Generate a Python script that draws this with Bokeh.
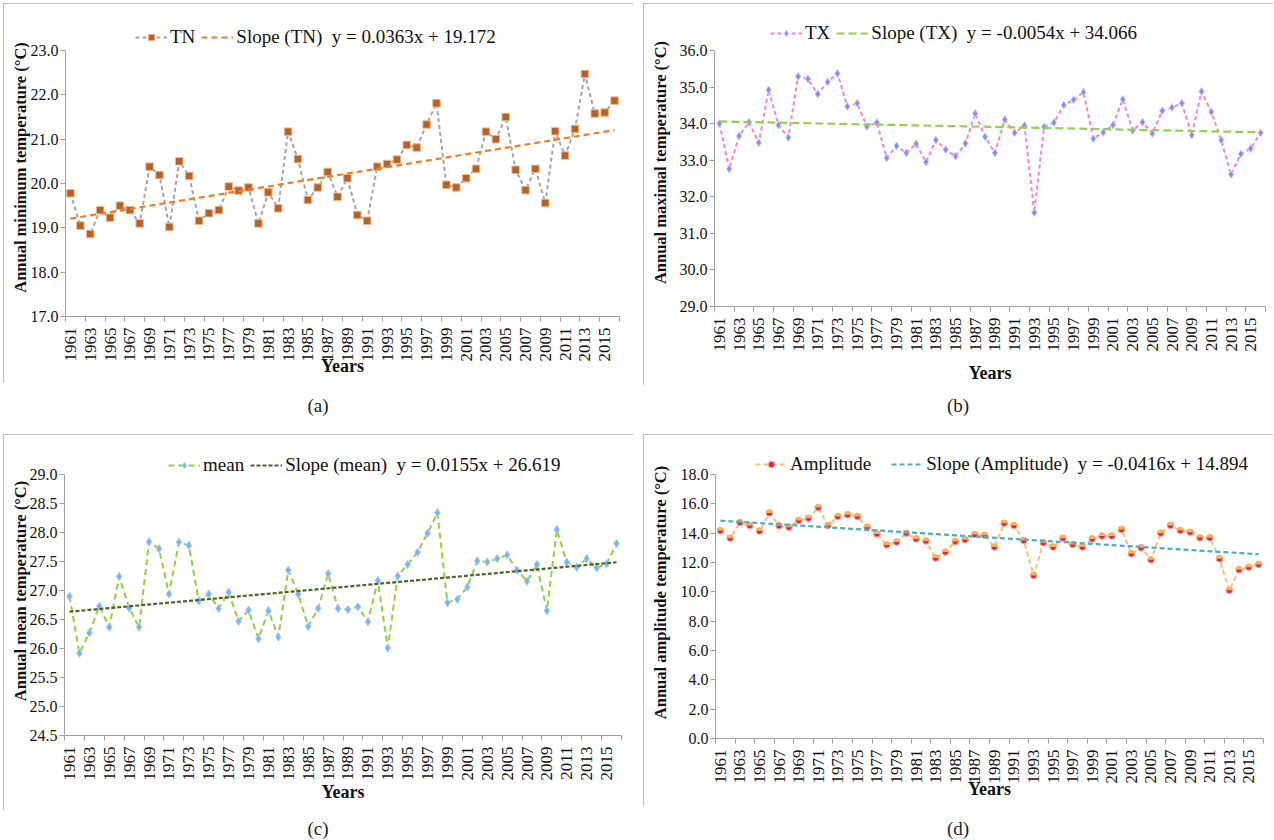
import math
from bokeh.plotting import figure
from bokeh.models import (FixedTicker, Legend, LegendItem, Div, NumeralTickFormatter, Range1d)
from bokeh.layouts import column, row
from bokeh.embed import file_html
from bokeh.resources import INLINE

FONT = "Liberation Serif"

years = list(range(1961, 2017))
x_tick_labels = list(range(1961, 2016, 2))

tn = [19.78, 19.05, 18.86, 19.40, 19.23, 19.50, 19.40, 19.10, 20.38, 20.19,
      19.02, 20.50, 20.17, 19.16, 19.33, 19.40, 19.93, 19.84, 19.91, 19.10,
      19.80, 19.44, 21.17, 20.55, 19.63, 19.91, 20.26, 19.70, 20.12, 19.29,
      19.16, 20.38, 20.44, 20.54, 20.87, 20.81, 21.33, 21.81, 19.97, 19.91,
      20.12, 20.33, 21.17, 21.00, 21.50, 20.31, 19.85, 20.33, 19.56, 21.18,
      20.63, 21.23, 22.47, 21.58, 21.60, 21.87]
tx = [34.00, 32.76, 33.66, 34.04, 33.48, 34.92, 33.96, 33.62, 35.29, 35.22,
      34.81, 35.14, 35.37, 34.47, 34.56, 33.92, 34.03, 33.06, 33.39, 33.20,
      33.45, 32.95, 33.55, 33.29, 33.11, 33.46, 34.28, 33.64, 33.20, 34.11,
      33.75, 33.95, 31.57, 33.91, 34.03, 34.51, 34.65, 34.86, 33.59, 33.76,
      33.96, 34.66, 33.81, 34.04, 33.73, 34.35, 34.44, 34.56, 33.69, 34.88,
      34.32, 33.55, 32.61, 33.17, 33.32, 33.75]
tmean = [26.90, 25.92, 26.27, 26.73, 26.37, 27.24, 26.70, 26.37, 27.84, 27.72,
         26.94, 27.83, 27.78, 26.82, 26.94, 26.69, 26.97, 26.47, 26.66, 26.17,
         26.65, 26.20, 27.35, 26.94, 26.38, 26.69, 27.29, 26.69, 26.67, 26.72,
         26.46, 27.17, 26.01, 27.25, 27.45, 27.66, 27.99, 28.34, 26.79, 26.85,
         27.06, 27.51, 27.49, 27.55, 27.61, 27.35, 27.16, 27.45, 26.65, 28.05,
         27.49, 27.40, 27.55, 27.39, 27.46, 27.81]
amp = [14.16, 13.66, 14.73, 14.52, 14.14, 15.38, 14.50, 14.41, 14.86, 15.02,
       15.75, 14.52, 15.14, 15.25, 15.14, 14.41, 13.95, 13.20, 13.39, 14.00,
       13.61, 13.46, 12.30, 12.71, 13.43, 13.55, 13.91, 13.86, 13.05, 14.68,
       14.52, 13.50, 11.12, 13.34, 13.05, 13.66, 13.23, 13.05, 13.61, 13.80,
       13.80, 14.25, 12.59, 13.00, 12.18, 14.00, 14.52, 14.18, 14.07, 13.68,
       13.68, 12.25, 10.10, 11.50, 11.68, 11.87]

# trend equations (x = year index starting at 1)
tn_trend = (0.0363, 19.172)
tx_trend = (-0.0054, 34.066)
mean_trend = (0.0155, 26.619)
amp_trend = (-0.0416, 14.894)

yticks_a = [17, 18, 19, 20, 21, 22, 23]
yticks_b = [29, 30, 31, 32, 33, 34, 35, 36]
yticks_c = [24.5, 25, 25.5, 26, 26.5, 27, 27.5, 28, 28.5, 29]
yticks_d = [0, 2, 4, 6, 8, 10, 12, 14, 16, 18]

series_names = ["TN", "TX", "mean", "Amplitude"]
trend_labels = ["Slope (TN)  y = 0.0363x + 19.172",
                "Slope (TX)  y = -0.0054x + 34.066",
                "Slope (mean)  y = 0.0155x + 26.619",
                "Slope (Amplitude)  y = -0.0416x + 14.894"]
y_titles = ["Annual minimum temperature (\u00b0C)",
            "Annual maximal temperature (\u00b0C)",
            "Annual mean temperature (\u00b0C)",
            "Annual amplitude temperature (\u00b0C)"]
captions = ["(a)", "(b)", "(c)", "(d)"]

TXT = "#111111"
AX = "#a0a0a0"


def make_panel(vals, trend, yticks, ytitle, sname, tlabel, geom, style):
    # geom: frame width, tick-span height, extra top px, borders l, r, t, b
    fw, fh, extra, bl, br, bt, bb = geom
    y0, y1 = yticks[0], yticks[-1]
    ytop = y1 + extra * (y1 - y0) / fh
    p = figure(frame_width=fw, frame_height=fh + extra, output_backend="svg",
               toolbar_location=None,
               x_range=Range1d(1960.5, 2016.5), y_range=Range1d(y0, ytop),
               min_border_left=bl, min_border_right=br,
               min_border_top=bt, min_border_bottom=bb)
    p.outline_line_color = None
    p.grid.visible = False
    p.background_fill_color = "white"
    p.border_fill_color = "white"
    p.styles = {"outline": "1px solid #a9a9a9", "outline-offset": "-1px"}

    xa = p.xaxis[0]
    minor = [t - 0.5 for t in x_tick_labels] + [x_tick_labels[-1] + 1.5]
    xa.ticker = FixedTicker(ticks=x_tick_labels, minor_ticks=minor)
    xa.major_tick_line_color = None
    xa.major_tick_out = 0
    xa.major_tick_in = 0
    xa.minor_tick_out = 5
    xa.minor_tick_in = 0
    xa.minor_tick_line_color = AX
    xa.axis_line_color = AX
    xa.major_label_orientation = math.pi / 2
    xa.major_label_text_font = FONT
    xa.major_label_text_font_size = "17px"
    xa.major_label_text_color = TXT
    xa.major_label_standoff = 6
    xa.axis_label = "Years"
    xa.axis_label_text_font = FONT
    xa.axis_label_text_font_style = "bold"
    xa.axis_label_text_font_size = "18px"
    xa.axis_label_text_color = TXT
    xa.axis_label_standoff = style["xstand"]

    ya = p.yaxis[0]
    ya.ticker = FixedTicker(ticks=yticks, minor_ticks=[])
    ya.formatter = NumeralTickFormatter(format="0.0")
    ya.bounds = (y0, y1)
    ya.major_tick_out = 5
    ya.major_tick_in = 0
    ya.major_tick_line_color = AX
    ya.axis_line_color = AX
    ya.major_label_text_font = FONT
    ya.major_label_text_font_size = "16px"
    ya.major_label_text_color = TXT
    ya.major_label_standoff = 2
    ya.axis_label = ytitle
    ya.axis_label_text_font = FONT
    ya.axis_label_text_font_style = "bold"
    ya.axis_label_text_font_size = "16.5px"
    ya.axis_label_text_color = TXT
    ya.axis_label_standoff = style["ystand"]

    ln = p.line(years, vals, line_color=style["line"], line_dash=style["dash"], line_width=2)
    mk = p.scatter(years, vals, marker=style["marker"], size=style["size"],
                   fill_color=style["fill"], line_color=style["mline"], line_width=1)
    rends = [ln, mk]
    if style.get("top") is not None:
        p.wedge(years, vals, radius=3.5, radius_units="screen", start_angle=0,
                end_angle=math.pi, fill_color=style["top"], line_color=None)
    a, b = trend
    n = len(years)
    tr = p.line([years[0], years[-1]], [a * 1 + b, a * n + b], line_color=style["trend"],
                line_dash=style["tdash"], line_width=2.2)

    lx, ldy = style["lloc"]
    leg = Legend(items=[LegendItem(label=sname, renderers=rends),
                        LegendItem(label=tlabel, renderers=[tr])],
                 orientation="horizontal", location=(lx, fh + ldy),
                 border_line_color=None, background_fill_alpha=0,
                 label_text_font=FONT, label_text_font_size="19px",
                 label_text_color=TXT,
                 glyph_width=32, glyph_height=16, label_standoff=3, spacing=style.get("lsp", 6),
                 padding=2, margin=0)
    p.add_layout(leg, "center")
    return p


pa = make_panel(tn, tn_trend, yticks_a, y_titles[0], series_names[0], trend_labels[0],
                (554, 266, 32, 62, 14, 15, 67),
                dict(line="#a6a6a6", dash="4 3", marker="square", size=7.5, fill="#b5622a",
                     mline="#efb888", trend="#f07d1e", tdash="6 4", ystand=-2, xstand=-9,
                     lloc=(70, 2)))
pb = make_panel(tx, tx_trend, yticks_b, y_titles[1], series_names[1], trend_labels[1],
                (551, 256, 32, 71, 8, 15, 77),
                dict(line="#ff80d2", dash="4 3", marker="diamond", size=8, fill="#9a80f2",
                     mline="#b8d8ff", trend="#92d050", tdash="8 4", ystand=7, xstand=8,
                     lloc=(56, 6)))
pc = make_panel(tmean, mean_trend, yticks_c, y_titles[2], series_names[2], trend_labels[2],
                (557, 261, 28, 61, 12, 12, 75),
                dict(line="#8fd13f", dash="6 4", marker="diamond", size=8.5, fill="#7ab4f0",
                     mline="#aed2f8", trend="#4f6228", tdash="4 2", ystand=-3, xstand=-2,
                     lloc=(104, -2)))
pd_ = make_panel(amp, amp_trend, yticks_d, y_titles[3], series_names[3], trend_labels[3],
                 (548, 264, 28, 72, 10, 12, 68),
                 dict(line="#ffbd80", dash="5 3", marker="circle", size=6.5, fill="#d4236c",
                      mline="#ffb070", trend="#4bacc6", tdash="5 3", ystand=8, xstand=-8,
                      top="#ffae50", lloc=(40, -1), lsp=20))

pa.margin = (3, 0, 0, 3)
pb.margin = (3, 0, 0, 10)
pc.margin = (0, 0, 0, 3)
pd_.margin = (0, 0, 0, 10)


def cap(t, h, lh, ml):
    return Div(text=t, width=630, height=h, margin=(0, 0, 0, ml),
               styles={"text-align": "center", "font-family": FONT, "font-size": "19px",
                       "line-height": lh, "color": "#222"})


layout = column(row(pa, pb), row(cap(captions[0], 49, "42px", 3), cap(captions[1], 49, "42px", 10)),
                row(pc, pd_), row(cap(captions[2], 31, "38px", 3), cap(captions[3], 31, "38px", 10)),
                spacing=0)

open("out.html", "w").write(file_html(layout, INLINE))
